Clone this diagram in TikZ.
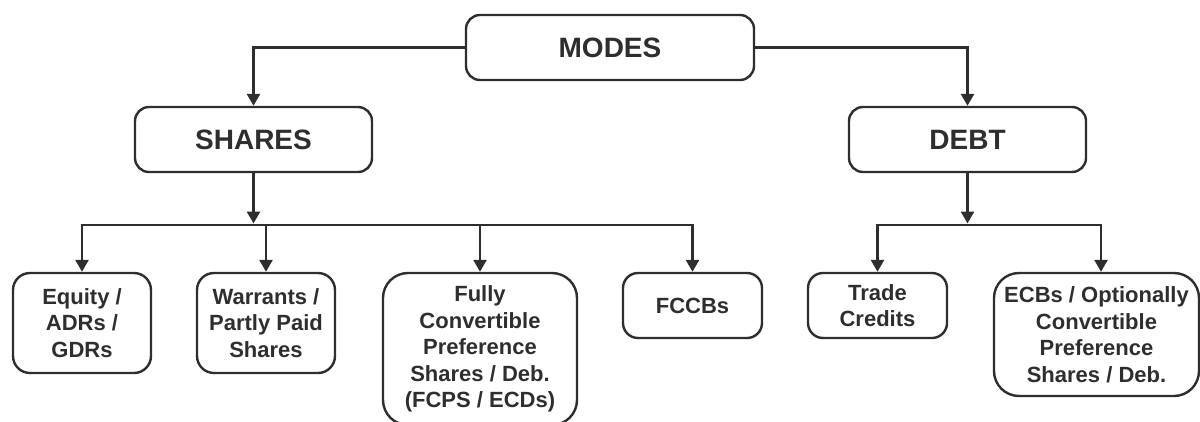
\documentclass[tikz,border=0pt]{standalone}
\usepackage{fontspec}
\setmainfont{Liberation Sans}
\usetikzlibrary{arrows.meta}
\definecolor{ink}{HTML}{2E2E2E}
\tikzset{
  box/.style={draw=ink, line width=2.4pt, rounded corners=15pt, align=center, text=ink,
    inner sep=0pt, font=\bfseries\fontsize{22}{26.5}\selectfont},
  topbox/.style={box, rounded corners=14pt, font=\bfseries\fontsize{28}{32}\selectfont,
    minimum width=237pt, minimum height=65pt},
  ln/.style={draw=ink, line width=2.6pt},
  arr/.style={ln, -{Triangle[width=13pt,length=12pt]}}
}
\begin{document}
\begin{tikzpicture}[x=1pt,y=-1pt]
\useasboundingbox (0,0) rectangle (1200,421);
% top level
\node[topbox, minimum width=288pt] (modes) at (610,47.5) {MODES};
\node[topbox] (shares) at (253.5,139.5) {SHARES};
\node[topbox] (debt) at (967.5,139.5) {DEBT};
% leaves
\node[box, minimum width=138pt, minimum height=100pt, rounded corners=17pt] (equity) at (82,323) {Equity /\\ADRs /\\GDRs};
\node[box, minimum width=138pt, minimum height=100pt, rounded corners=17pt] (warrants) at (266,323) {Warrants /\\Partly Paid\\Shares};
\node[box, minimum width=194pt, minimum height=152pt, rounded corners=25pt] (fully) at (480,349) {Fully\\Convertible\\Preference\\Shares / Deb.\\(FCPS / ECDs)};
\node[box, minimum width=139pt, minimum height=65pt] (fccb) at (692.5,305.5) {FCCBs};
\node[box, minimum width=139pt, minimum height=65pt] (trade) at (877.5,305.5) {Trade\\Credits};
\node[box, minimum width=205pt, minimum height=123pt, rounded corners=25pt] (ecb) at (1096.5,334.5) {ECBs / Optionally\\Convertible\\Preference\\Shares / Deb.};
% junction coordinates
\coordinate (sb) at (253.5,225);
\coordinate (sbt) at (253.5,223.5);
\coordinate (db) at (967.5,225);
\coordinate (dbt) at (967.5,223.5);
% connectors
\draw[arr] (modes.west) -| (shares.north);
\draw[arr] (modes.east) -| (debt.north);
\draw[arr] (shares.south) -- (sbt);
\draw[arr] (debt.south) -- (dbt);
\draw[arr] (sb) -| (equity.north);
\draw[arr] (sb) -| (fccb.north);
\draw[arr] (warrants.north |- sb) -- (warrants.north);
\draw[arr] (fully.north |- sb) -- (fully.north);
\draw[arr] (db) -| (trade.north);
\draw[arr] (db) -| ([xshift=4.5pt]ecb.north);
\end{tikzpicture}
\end{document}
